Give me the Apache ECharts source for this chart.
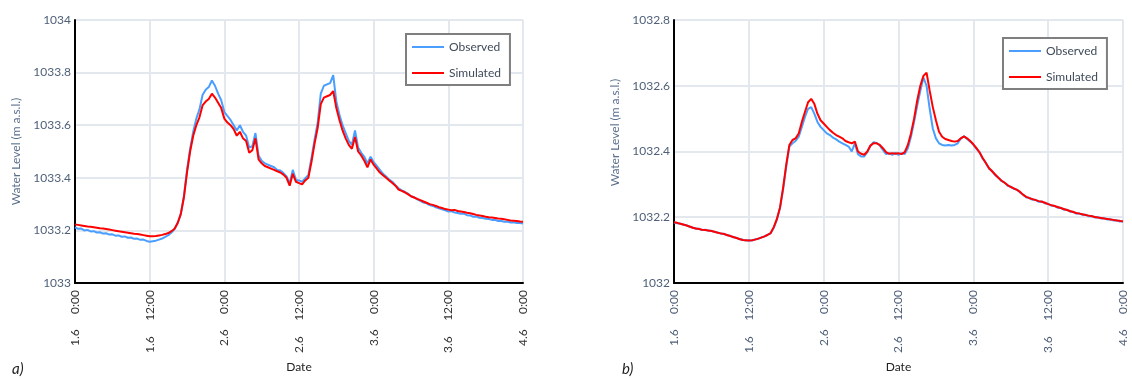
<!DOCTYPE html>
<html>
<head>
<meta charset="utf-8">
<script src="https://cdn.jsdelivr.net/npm/echarts@6/dist/echarts.min.js"></script>
<style>
  html, body { margin: 0; padding: 0; background: #fff; }
  #chart { width: 1132px; height: 379px; }
</style>
</head>
<body>
<div id="chart"></div>
<script>
// half-hourly readings, 1.6 0:00 -> 4.6 0:00
const stepHours = 0.5;

// a) observed / simulated
const obsA = [
  1033.212, 1033.206, 1033.207, 1033.200, 1033.202, 1033.196, 1033.197, 1033.192, 1033.193, 1033.188, 1033.189, 1033.184,
  1033.185, 1033.180, 1033.181, 1033.176, 1033.177, 1033.172, 1033.173, 1033.168, 1033.169, 1033.164, 1033.165, 1033.160,
  1033.157, 1033.159, 1033.161, 1033.165, 1033.169, 1033.175, 1033.182, 1033.192, 1033.205, 1033.228, 1033.262, 1033.330,
  1033.430, 1033.510, 1033.575, 1033.625, 1033.660, 1033.715, 1033.735, 1033.745, 1033.770, 1033.750, 1033.720, 1033.695,
  1033.650, 1033.635, 1033.620, 1033.600, 1033.580, 1033.600, 1033.575, 1033.560, 1033.515, 1033.520, 1033.570, 1033.485,
  1033.465, 1033.455, 1033.450, 1033.445, 1033.440, 1033.430, 1033.428, 1033.418, 1033.405, 1033.378, 1033.430, 1033.392,
  1033.390, 1033.385, 1033.398, 1033.410, 1033.475, 1033.545, 1033.610, 1033.720, 1033.750, 1033.755, 1033.760, 1033.790,
  1033.690, 1033.640, 1033.600, 1033.570, 1033.540, 1033.525, 1033.580, 1033.515, 1033.495, 1033.480, 1033.455, 1033.480,
  1033.460, 1033.445, 1033.430, 1033.415, 1033.405, 1033.393, 1033.385, 1033.372, 1033.360, 1033.352, 1033.347, 1033.340,
  1033.330, 1033.326, 1033.318, 1033.312, 1033.306, 1033.303, 1033.296, 1033.293, 1033.288, 1033.284, 1033.280, 1033.276,
  1033.272, 1033.273, 1033.268, 1033.266, 1033.263, 1033.264, 1033.258, 1033.257, 1033.252, 1033.253, 1033.248, 1033.247,
  1033.244, 1033.243, 1033.240, 1033.240, 1033.236, 1033.236, 1033.233, 1033.234, 1033.230, 1033.231, 1033.228, 1033.228, 1033.226
];
const simA = [
  1033.222, 1033.221, 1033.219, 1033.217, 1033.215, 1033.214, 1033.212, 1033.210, 1033.208, 1033.207, 1033.205, 1033.203,
  1033.201, 1033.199, 1033.197, 1033.195, 1033.193, 1033.191, 1033.189, 1033.187, 1033.186, 1033.184, 1033.182, 1033.180,
  1033.178, 1033.178, 1033.179, 1033.181, 1033.183, 1033.186, 1033.190, 1033.197, 1033.206, 1033.228, 1033.262, 1033.325,
  1033.420, 1033.500, 1033.560, 1033.600, 1033.630, 1033.675, 1033.690, 1033.700, 1033.720, 1033.705, 1033.685, 1033.665,
  1033.625, 1033.610, 1033.600, 1033.585, 1033.560, 1033.575, 1033.550, 1033.540, 1033.495, 1033.505, 1033.550, 1033.470,
  1033.455, 1033.445, 1033.440, 1033.435, 1033.430, 1033.425, 1033.420, 1033.412, 1033.400, 1033.370, 1033.415, 1033.385,
  1033.380, 1033.375, 1033.390, 1033.400, 1033.460, 1033.530, 1033.590, 1033.680, 1033.705, 1033.710, 1033.715, 1033.730,
  1033.665, 1033.620, 1033.580, 1033.550, 1033.525, 1033.510, 1033.555, 1033.500, 1033.485, 1033.465, 1033.440, 1033.470,
  1033.450, 1033.435, 1033.420, 1033.410, 1033.400, 1033.390, 1033.380, 1033.370, 1033.355, 1033.350, 1033.345, 1033.338,
  1033.330, 1033.325, 1033.320, 1033.315, 1033.310, 1033.305, 1033.300, 1033.297, 1033.293, 1033.288, 1033.285, 1033.281,
  1033.279, 1033.277, 1033.278, 1033.274, 1033.272, 1033.270, 1033.267, 1033.265, 1033.262, 1033.259, 1033.257, 1033.255,
  1033.252, 1033.250, 1033.249, 1033.247, 1033.245, 1033.244, 1033.242, 1033.240, 1033.238, 1033.237, 1033.236, 1033.234, 1033.233
];

// b) observed / simulated
const obsB = [
  1032.184, 1032.182, 1032.181, 1032.177, 1032.176, 1032.171, 1032.169, 1032.165, 1032.165, 1032.161, 1032.162, 1032.159,
  1032.159, 1032.155, 1032.154, 1032.150, 1032.150, 1032.145, 1032.144, 1032.139, 1032.138, 1032.133, 1032.132, 1032.129,
  1032.130, 1032.129, 1032.133, 1032.134, 1032.139, 1032.141, 1032.147, 1032.151, 1032.168, 1032.193, 1032.228, 1032.285,
  1032.355, 1032.415, 1032.425, 1032.432, 1032.445, 1032.475, 1032.505, 1032.530, 1032.535, 1032.515, 1032.490, 1032.475,
  1032.465, 1032.455, 1032.450, 1032.442, 1032.437, 1032.430, 1032.425, 1032.420, 1032.415, 1032.400, 1032.425, 1032.392,
  1032.385, 1032.385, 1032.398, 1032.418, 1032.428, 1032.426, 1032.418, 1032.405, 1032.392, 1032.395, 1032.390, 1032.396,
  1032.390, 1032.395, 1032.392, 1032.410, 1032.445, 1032.490, 1032.540, 1032.585, 1032.625, 1032.600, 1032.530, 1032.470,
  1032.440, 1032.425, 1032.420, 1032.418, 1032.420, 1032.418, 1032.420, 1032.425, 1032.440, 1032.446, 1032.438, 1032.430,
  1032.421, 1032.408, 1032.398, 1032.378, 1032.366, 1032.348, 1032.341, 1032.328, 1032.321, 1032.310, 1032.306, 1032.296,
  1032.293, 1032.286, 1032.284, 1032.275, 1032.269, 1032.260, 1032.259, 1032.253, 1032.253, 1032.247, 1032.248, 1032.242,
  1032.241, 1032.235, 1032.235, 1032.229, 1032.229, 1032.223, 1032.223, 1032.217, 1032.217, 1032.211, 1032.212, 1032.207,
  1032.208, 1032.203, 1032.204, 1032.199, 1032.200, 1032.196, 1032.197, 1032.193, 1032.194, 1032.190, 1032.191, 1032.187, 1032.188
];
const simB = [
  1032.185, 1032.183, 1032.180, 1032.178, 1032.175, 1032.172, 1032.168, 1032.166, 1032.164, 1032.162, 1032.161, 1032.160,
  1032.158, 1032.156, 1032.153, 1032.151, 1032.149, 1032.146, 1032.143, 1032.140, 1032.137, 1032.134, 1032.131, 1032.130,
  1032.129, 1032.130, 1032.132, 1032.135, 1032.138, 1032.142, 1032.146, 1032.152, 1032.170, 1032.195, 1032.230, 1032.290,
  1032.360, 1032.420, 1032.435, 1032.440, 1032.455, 1032.490, 1032.520, 1032.550, 1032.560, 1032.545, 1032.515, 1032.495,
  1032.485, 1032.475, 1032.465, 1032.457, 1032.450, 1032.445, 1032.440, 1032.432, 1032.428, 1032.425, 1032.430, 1032.400,
  1032.393, 1032.390, 1032.400, 1032.418, 1032.425, 1032.425, 1032.420, 1032.410, 1032.398, 1032.393, 1032.395, 1032.393,
  1032.395, 1032.392, 1032.398, 1032.420, 1032.455, 1032.500, 1032.555, 1032.600, 1032.630, 1032.640, 1032.585, 1032.535,
  1032.495, 1032.460, 1032.445, 1032.438, 1032.435, 1032.432, 1032.430, 1032.432, 1032.440, 1032.446, 1032.440, 1032.432,
  1032.422, 1032.410, 1032.397, 1032.380, 1032.365, 1032.350, 1032.340, 1032.330, 1032.320, 1032.312, 1032.305, 1032.298,
  1032.292, 1032.288, 1032.283, 1032.277, 1032.268, 1032.262, 1032.258, 1032.255, 1032.252, 1032.249, 1032.247, 1032.244,
  1032.240, 1032.237, 1032.234, 1032.231, 1032.228, 1032.225, 1032.222, 1032.219, 1032.216, 1032.213, 1032.211, 1032.209,
  1032.207, 1032.205, 1032.203, 1032.201, 1032.199, 1032.198, 1032.196, 1032.195, 1032.193, 1032.192, 1032.190, 1032.189, 1032.187
];

const seriesNames = ['Observed', 'Simulated'];
const dayLabels = ['1.6', '2.6', '3.6', '4.6'];

const FONT = 'Lato, "Open Sans", sans-serif';
const gridColor = '#e3e8ef';

const toPts = arr => arr.map((v, i) => [i * stepHours, v]);

const timeLabel = h => dayLabels[Math.floor(h / 24)] + '     ' + (h % 24) + ':00';

const makeX = (gridIndex, labelColor) => ({
  type: 'value',
  gridIndex,
  min: 0,
  max: 72,
  interval: 12,
  name: 'Date',
  nameLocation: 'middle',
  nameGap: 76,
  nameTextStyle: { color: '#222', fontSize: 12, fontFamily: FONT },
  axisLine: { show: true, lineStyle: { color: '#000', width: 2 } },
  axisTick: { show: false },
  splitLine: { show: true, lineStyle: { color: gridColor, width: 2 } },
  axisLabel: {
    rotate: 90,
    margin: 7,
    color: labelColor,
    fontSize: 12,
    fontFamily: FONT,
    formatter: timeLabel
  }
});

const makeY = (gridIndex, min, max, namePad) => ({
  type: 'value',
  gridIndex,
  min,
  max,
  interval: 0.2,
  name: 'Water Level (m a.s.l.)',
  nameLocation: 'middle',
  nameGap: 53,
  nameTextStyle: { color: '#5a6f8c', fontSize: 12, fontFamily: FONT, padding: namePad },
  axisLine: { show: true, lineStyle: { color: '#000', width: 2 } },
  axisTick: { show: false },
  splitLine: { show: true, lineStyle: { color: gridColor, width: 2 } },
  axisLabel: {
    margin: 4,
    color: '#4e5f78',
    fontSize: 12,
    fontFamily: FONT,
    formatter: v => String(parseFloat(v.toFixed(2)))
  }
});

const makeLegend = (left, top) => ({
  orient: 'vertical',
  left,
  top,
  data: seriesNames,
  icon: 'path://M0,0H16V1H0Z',
  itemWidth: 32,
  itemHeight: 14,
  itemGap: 14,
  padding: [7, 9, 6, 6],
  borderColor: '#7f7f7f',
  borderWidth: 2,
  backgroundColor: '#fff',
  textStyle: { color: '#3f4a5a', fontSize: 12, fontFamily: FONT }
});

const line = (name, data, color, axis, z) => ({
  name,
  type: 'line',
  xAxisIndex: axis,
  yAxisIndex: axis,
  data: toPts(data),
  symbol: 'none',
  showSymbol: false,
  z,
  color,
  lineStyle: { width: 2, color }
});

const blue = '#4a9eff';
const red = '#ff0000';

const chart = echarts.init(document.getElementById('chart'));
chart.setOption({
  animation: false,
  grid: [
    { left: 75, top: 20, width: 448, height: 263 },
    { left: 674, top: 20, width: 449, height: 263 }
  ],
  xAxis: [makeX(0, '#333'), makeX(1, '#4e5f78')],
  yAxis: [makeY(0, 1033, 1034, [0, 0, 0, 0]), makeY(1, 1032, 1032.8, [0, 0, 0, 38])],
  legend: [makeLegend(406, 34), makeLegend(1003, 38)],
  graphic: [
    { type: 'text', left: 12, top: 362, style: { text: 'a)', font: 'italic 15px ' + FONT, fill: '#222' } },
    { type: 'text', left: 622, top: 362, style: { text: 'b)', font: 'italic 15px ' + FONT, fill: '#222' } }
  ],
  series: [
    line('Observed', obsA, blue, 0, 2),
    line('Simulated', simA, red, 0, 3),
    line('Observed', obsB, blue, 1, 2),
    line('Simulated', simB, red, 1, 3)
  ]
});
window.addEventListener('resize', () => chart.resize());
</script>
</body>
</html>
